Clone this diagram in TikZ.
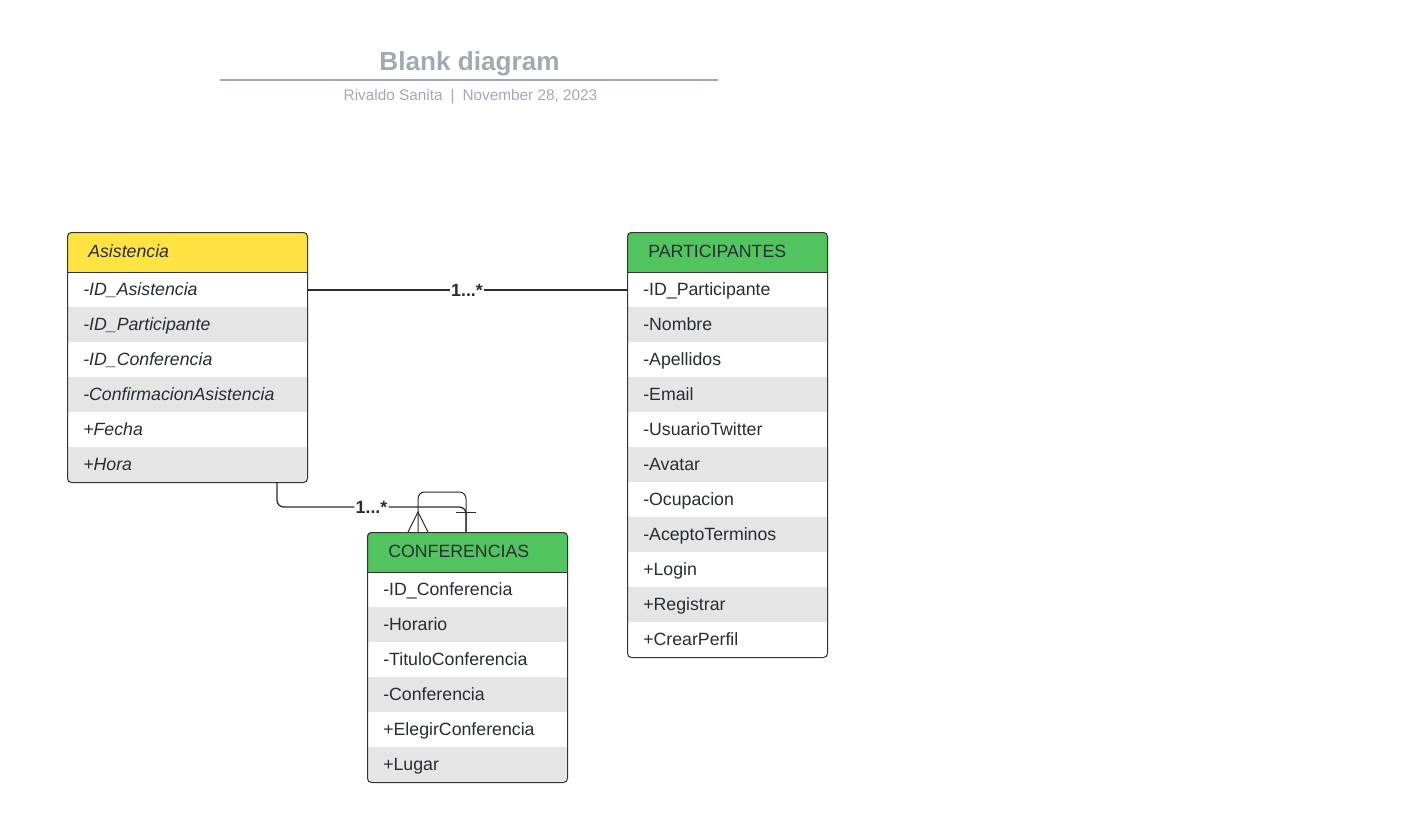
\documentclass[tikz,border=0pt]{standalone}
\usepackage{fontspec}
\setmainfont{Liberation Sans}
\usetikzlibrary{calc}
\definecolor{hdrYellow}{HTML}{FFE342}
\definecolor{hdrGreen}{HTML}{52C45F}
\definecolor{rowGray}{HTML}{E5E5E5}
\definecolor{edgeC}{HTML}{333333}
\definecolor{txtC}{HTML}{282C33}
\definecolor{titleC}{HTML}{A3A9B3}
\tikzset{
  classbox/.style={draw=edgeC, line width=0.75pt, rounded corners=3pt, inner sep=0pt, anchor=north west},
  hdrtxt/.style={anchor=base west, inner sep=0pt, text=txtC, font=\fontsize{13.3}{15}\selectfont},
  rowtxt/.style={anchor=base west, inner sep=0pt, text=txtC, font=\fontsize{13.3}{15}\selectfont},
  conn/.style={draw=txtC, line width=1pt},
  thinconn/.style={draw=txtC, line width=0.75pt},
  lbl/.style={fill=white, inner sep=1pt, text=txtC, font=\bfseries\fontsize{13.3}{15}\selectfont},
}
% #1 name, #2 left x, #3 top y, #4 width, #5 header colour, #6 font switch, #7 title, #8 rows
\newcommand{\umlclass}[8]{%
  \foreach \r [count=\i] in {#8} {\xdef\ucN{\i}}%
  \begin{scope}
    \clip[rounded corners=3pt] (#2,#3) rectangle ({#2+#4},{#3+40+35*\ucN});
    \fill[#5] (#2,#3) rectangle ({#2+#4},{#3+40});
    \foreach \r [count=\i] in {#8} {%
      \ifodd\i\else
        \fill[rowGray] (#2,{#3+40+35*(\i-1)}) rectangle ({#2+#4},{#3+40+35*\i});
      \fi}
  \end{scope}
  \node[classbox, minimum width={#4*0.75pt}, minimum height={(40+35*\ucN)*0.75pt}] (#1) at (#2,#3) {};
  \draw[edgeC, line width=0.75pt] (#1.north west) ++(0,40) -- ++(#4,0);
  \node[hdrtxt] (#1-title) at ({#2+21},{#3+25}) {#6#7};
  \foreach \r [count=\i] in {#8} {%
    \node[rowtxt] (#1-\i) at ({#2+16},{#3+40+35*\i-11.5}) {#6\r};}
}
\begin{document}
\begin{tikzpicture}[x=0.75pt,y=-0.75pt]
\useasboundingbox (0,0) rectangle (1407,822);
\fill[white] (0,0) rectangle (1407,822);
% title block
\node[font=\bfseries\fontsize{19.6}{22}\selectfont, text=titleC, inner sep=0pt] (title) at (469.5,64) {Blank diagram};
\draw[titleC, line width=1.5pt] (220,80) -- (718,80);
\node[font=\fontsize{11.5}{13}\selectfont, text=titleC, inner sep=0pt] (subtitle) at (470.5,97) {Rivaldo Sanita\hspace{6pt}|\hspace{6pt}November 28, 2023};
% classes
\umlclass{asis}{67}{232}{240}{hdrYellow}{\itshape}{Asistencia}{-ID\_Asistencia,-ID\_Participante,-ID\_Conferencia,-ConfirmacionAsistencia,+Fecha,+Hora}
\umlclass{part}{627}{232}{200}{hdrGreen}{}{PARTICIPANTES}{-ID\_Participante,-Nombre,-Apellidos,-Email,-UsuarioTwitter,-Avatar,-Ocupacion,-AceptoTerminos,+Login,+Registrar,+CrearPerfil}
\umlclass{conf}{367}{532}{200}{hdrGreen}{}{CONFERENCIAS}{-ID\_Conferencia,-Horario,-TituloConferencia,-Conferencia,+ElegirConferencia,+Lugar}
% connector end points
\coordinate (asisR) at (307,290);
\coordinate (partL) at (627,290);
\coordinate (asisB) at (277,482);
\coordinate (confA) at (418,532);
\coordinate (confB) at (466,532);
\coordinate (lvl) at (0,507);
% Asistencia -- PARTICIPANTES
\draw[conn] (asisR) -- node[lbl] (lblTop) {1...*} (partL);
% self loop on CONFERENCIAS
\draw[thinconn, rounded corners=5pt] (confA) -- ++(0,-40) -| (confB);
\draw[thinconn] ($(confA)+(-10,0)$) -- ($(confA)+(0,-20)$) -- ($(confA)+(10,0)$);
% Asistencia -- CONFERENCIAS
\draw[conn, rounded corners=5pt] (asisB) |- node[lbl, pos=0.75] (lblBot) {1...*} (confB |- lvl) -- (confB);
\draw[thinconn] ($(confB)+(-10,-20)$) -- ($(confB)+(10,-20)$);
\end{tikzpicture}
\end{document}
